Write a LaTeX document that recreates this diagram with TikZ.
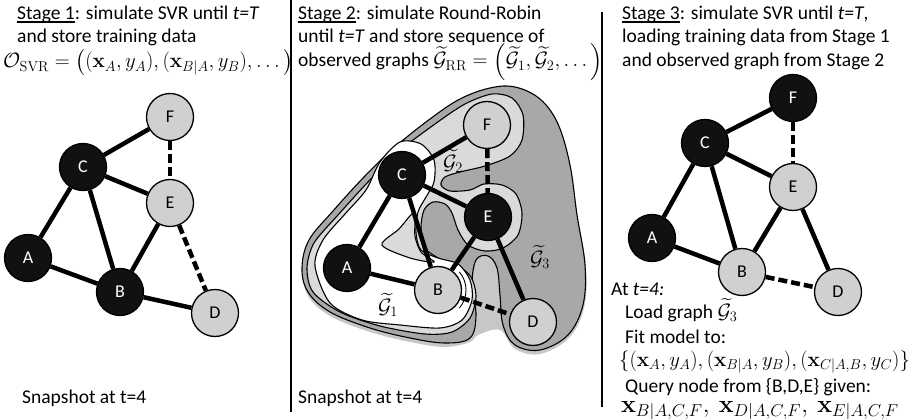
\documentclass[tikz,border=0pt]{standalone}
\usepackage[no-math]{fontspec}
\setmainfont{Carlito}
\usepackage{amsmath,amssymb}
\definecolor{nblack}{HTML}{111111}
\definecolor{ngray}{HTML}{D0D0D0}
\definecolor{gthree}{HTML}{A8A8A8}
\definecolor{gtwo}{HTML}{DADADA}
\pgfdeclarelayer{blobs}
\pgfdeclarelayer{edges}
\pgfsetlayers{blobs,edges,main}
\newcommand\stg[1]{\setbox0=\hbox{#1}\rlap{\rule[-3.5pt]{\wd0}{2pt}}\box0}
\begin{document}
\begin{tikzpicture}[x=1pt,y=-1pt,
  txt/.style={anchor=base west,inner sep=0pt,font=\fontsize{19.5}{23}\selectfont},
  mth/.style={anchor=base west,inner sep=0pt,font=\fontsize{21.5}{23}\selectfont},
  lab/.style={inner sep=0pt,font=\fontsize{21}{23}\selectfont},
  nd/.style={circle,draw=black,line width=1.3pt,minimum size=47pt,inner sep=0pt,font=\fontsize{18}{20}\selectfont},
  dk/.style={nd,fill=nblack,text=white},
  lt/.style={nd,fill=ngray,text=black},
  edg/.style={line width=4.5pt},
  dedg/.style={edg,dash pattern=on 9pt off 4pt},
  blob/.style={draw=black,line width=1.1pt}]
\useasboundingbox (0,0) rectangle (920,419);

% dividers
\draw[line width=2.5pt] (291,0) coordinate (v1a) -- (291,412) coordinate (v1b);
\draw[line width=2.5pt] (602,12) coordinate (v2a) -- (602,407) coordinate (v2b);

% ---------- Panel 1 ----------
\node[txt] (s1a) at (17,20) {\stg{Stage 1}: simulate SVR until \textit{t=T}};
\node[txt] (s1b) at (17,43) {and store training data};
\node[mth] (s1c) at (3,68) {$\mathcal{O}_{\mathrm{SVR}} = \big((\mathbf{x}_A, y_A), (\mathbf{x}_{B|A}, y_B), \ldots\big)$};
\node[txt] (snap1) at (22,403) {Snapshot at t=4};

\node[lt] (F1) at (170,117) {F};
\node[dk] (C1) at (83,167) {C};
\node[lt] (E1) at (170,203) {E};
\node[dk] (A1) at (28,258) {A};
\node[dk] (B1) at (120,292) {B};
\node[lt] (D1) at (215,313) {D};
\begin{pgfonlayer}{edges}
\draw[edg] (F1) -- (C1);
\draw[dedg] (F1) -- (E1);
\draw[edg] (C1) -- (E1);
\draw[edg] (C1) -- (A1);
\draw[edg] (C1) -- (B1);
\draw[edg] (E1) -- (B1);
\draw[dedg] (E1) -- (D1);
\draw[edg] (A1) -- (B1);
\draw[edg] (B1) -- (D1);
\end{pgfonlayer}

% ---------- Panel 2 ----------
\node[txt] (s2a) at (298,20) {\stg{Stage 2}: simulate Round-Robin};
\node[txt] (s2b) at (298,43) {until \textit{t=T} and store sequence of};
\node[txt] (s2c) at (298,67) {observed graphs {\fontsize{20.5}{23}\selectfont$\widetilde{\mathcal{G}}_{\mathrm{RR}} = \Big(\widetilde{\mathcal{G}}_1, \widetilde{\mathcal{G}}_2, \ldots\Big)$}};
\node[txt] (snap2) at (298,403) {Snapshot at t=4};

\begin{pgfonlayer}{blobs}
% shadow
\fill[black!22] plot[smooth cycle,tension=0.6] coordinates {(304,272) (312,244) (335,214) (365,180) (395,150) (430,122) (460,102) (490,92) (515,92) (540,104) (558,128) (570,168) (578,218) (586,268) (584,308) (569,338) (540,354) (515,349) (500,330) (478,335) (470,342) (445,347) (410,342) (370,332) (330,316) (308,296)};
% G3
\draw[blob,fill=gthree] plot[smooth cycle,tension=0.6] coordinates {(302,268) (309,240) (333,211) (364,177) (395,147) (430,119) (460,99) (490,88) (515,87) (540,99) (558,124) (570,165) (577,215) (585,265) (583,305) (568,335) (540,350) (515,345) (503,325) (500,295) (497,268) (488,256) (476,260) (472,285) (476,315) (470,338) (445,343) (410,338) (370,328) (330,312) (308,292)};
% G2
\draw[blob,fill=gtwo] plot[smooth cycle,tension=0.5] coordinates {(307,268) (314,243) (338,215) (368,182) (398,152) (435,124) (465,104) (492,94) (512,98) (523,115) (522,140) (510,156) (485,166) (460,172) (445,177) (441,185) (450,191) (470,190) (484,184) (502,185) (516,194) (522,213) (518,235) (503,248) (485,251) (468,245) (458,230) (452,213) (445,204) (433,202) (424,210) (421,228) (425,248) (440,259) (458,266) (471,277) (476,296) (470,318) (452,332) (425,334) (380,326) (340,312) (313,292)};
% G1
\draw[blob,fill=white] plot[smooth cycle,tension=0.5] coordinates {(315,266) (323,240) (345,214) (366,190) (380,162) (400,142) (421,144) (434,160) (434,182) (426,197) (418,212) (416,233) (421,250) (438,258) (458,264) (470,280) (472,300) (462,320) (440,328) (400,325) (362,320) (330,303)};
% light triangle hole
\draw[blob,fill=gtwo] plot[smooth cycle,tension=0.5] coordinates {(382,245) (399,229) (414,213) (415,236) (421,252) (434,262) (410,258)};
% extra ring around B
\draw[line width=0.9pt] (438,290) ++(-40:28) arc[start angle=-40,end angle=40,radius=28];
\end{pgfonlayer}

\node[lab] (g2) at (453,161) {$\widetilde{\mathcal{G}}_2$};
\node[lab] (g3) at (540,257) {$\widetilde{\mathcal{G}}_3$};
\node[lab] (g1) at (388,305) {$\widetilde{\mathcal{G}}_1$};

\node[lt] (F2) at (487,125) {F};
\node[dk] (C2) at (402,175) {C};
\node[dk] (E2) at (488,217) {E};
\node[dk] (A2) at (347,268) {A};
\node[lt] (B2) at (438,290) {B};
\node[lt] (D2) at (533,322) {D};
\begin{pgfonlayer}{edges}
\draw[edg] (F2) -- (C2);
\draw[dedg] (F2) -- (E2);
\draw[edg] (C2) -- (E2);
\draw[edg] (C2) -- (A2);
\draw[edg] (C2) -- (B2);
\draw[edg] (E2) -- (B2);
\draw[edg] (E2) -- (D2);
\draw[edg] (A2) -- (B2);
\draw[dedg] (B2) -- (D2);
\end{pgfonlayer}

% ---------- Panel 3 ----------
\node[txt] (s3a) at (622,20) {\stg{Stage 3}: simulate SVR until \textit{t=T},};
\node[txt] (s3b) at (622,43) {loading training data from Stage 1};
\node[txt] (s3c) at (622,67) {and observed graph from Stage 2};

\node[dk] (F3) at (793,98) {F};
\node[dk] (C3) at (705,143) {C};
\node[lt] (E3) at (793,187) {E};
\node[dk] (A3) at (652,238) {A};
\node[lt] (B3) at (742,272) {B};
\node[lt] (D3) at (838,292) {D};
\begin{pgfonlayer}{edges}
\draw[edg] (F3) -- (C3);
\draw[dedg] (F3) -- (E3);
\draw[edg] (C3) -- (E3);
\draw[edg] (C3) -- (A3);
\draw[edg] (C3) -- (B3);
\draw[edg] (E3) -- (B3);
\draw[edg] (E3) -- (D3);
\draw[edg] (A3) -- (B3);
\draw[dedg] (B3) -- (D3);
\end{pgfonlayer}

\node[txt] (q1) at (611,295) {At \textit{t=4:}};
\node[txt] (q2) at (625,318) {Load graph $\widetilde{\mathcal{G}}_3$};
\node[txt] (q3) at (625,343) {Fit model to:};
\node[mth] (q4) at (619,366) {$\{(\mathbf{x}_A,y_A),(\mathbf{x}_{B|A},y_B),(\mathbf{x}_{C|A,B},y_C)\}$};
\node[txt] (q5) at (625,392) {Query node from \{B,D,E\} given:};
\node[mth,font=\fontsize{23}{24}\selectfont] (q6) at (621,412) {$\mathbf{x}_{B|A,C,F},\ \mathbf{x}_{D|A,C,F},\ \mathbf{x}_{E|A,C,F}$};
\end{tikzpicture}
\end{document}
